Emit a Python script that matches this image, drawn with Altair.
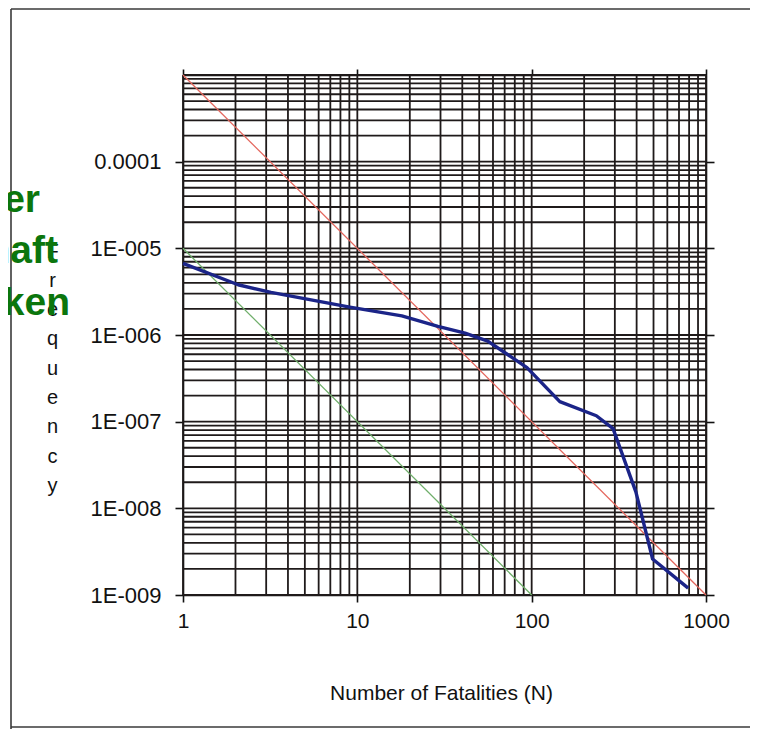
import altair as alt
import pandas as pd

# ---------------- data ----------------
# Blue F-N curve
curve_n = [1, 2.07, 3.2, 9.05, 18, 29, 41.5, 56, 94, 145, 235, 293, 396, 494, 790]
curve_f = [6.7e-6, 3.8e-6, 3.1e-6, 2.1e-6, 1.66e-6, 1.26e-6, 1.05e-6, 8.5e-7,
           4.2e-7, 1.7e-7, 1.17e-7, 8.3e-8, 1.55e-8, 2.6e-9, 1.2e-9]

# Upper criterion line (red) and lower criterion line (green)
red_n = [1, 1000]
red_f = [1e-3, 1e-9]
green_n = [1, 100]
green_f = [1e-5, 1e-9]

# Axis ticks and labels
x_ticks = [1, 10, 100, 1000]
x_tick_labels = ["1", "10", "100", "1000"]
y_ticks = [1e-4, 1e-5, 1e-6, 1e-7, 1e-8, 1e-9]
y_tick_labels = ["0.0001", "1E-005", "1E-006", "1E-007", "1E-008", "1E-009"]

# Log grid lines (1..9 per decade)
x_grid = [m * 10 ** e for e in range(0, 3) for m in range(1, 10)] + [1000]
y_grid = [m * 10.0 ** e for e in range(-9, -3) for m in range(1, 10)] + [1e-3]

# Slide text fragments cut off at the left edge
slide_words = ["er", "haft", "ken"]

# ---------------- chart ----------------
FONT = "Liberation Sans"
INK = "#111111"
GRID = "#1f1a1a"

xs = alt.Scale(type="log", domain=[1, 1000], nice=False)
ys = alt.Scale(type="log", domain=[1e-9, 1e-3], nice=False)

x_label_expr = "[" + ",".join(f"'{s}'" for s in x_tick_labels) + "][round(log(datum.value)/LN10)]"
y_label_expr = "[" + ",".join(f"'{s}'" for s in y_tick_labels) + "][round(-4 - log(datum.value)/LN10)]"

x_axis = alt.Axis(
    orient="bottom", values=x_ticks, labelExpr=x_label_expr, grid=False,
    tickSize=7, tickColor=INK, tickWidth=1.6, domainColor=INK, domainWidth=1.6,
    labelFont=FONT, labelFontSize=21, labelColor=INK, labelPadding=8,
    labelFlush=False,
    title="Number of Fatalities (N)", titleFont=FONT, titleFontSize=21,
    titleFontWeight="normal", titleColor=INK, titleX=258, titleY=98,
    titleBaseline="middle", titleAlign="center",
)
y_axis = alt.Axis(
    orient="left", values=y_ticks, labelExpr=y_label_expr, grid=False,
    tickSize=8, tickColor=INK, tickWidth=1.6, domainColor=INK, domainWidth=1.6,
    labelFont=FONT, labelFontSize=22, labelColor=INK, labelPadding=14,
    title=list("Frequency"), titleAngle=0, titleX=-131, titleY=166,
    titleAlign="center", titleBaseline="top", titleLineHeight=29.3,
    titleFont=FONT, titleFontSize=20, titleFontWeight="normal", titleColor=INK,
)
x_top = alt.Axis(orient="top", values=x_ticks, labels=False, grid=False, title=None,
                 tickSize=6, tickColor=INK, tickWidth=1.6, domainColor=INK, domainWidth=1.6)
y_right = alt.Axis(orient="right", values=y_ticks, labels=False, grid=False, title=None,
                   tickSize=8, tickColor=INK, tickWidth=1.6, domainColor=INK, domainWidth=1.6)

vgrid = alt.Chart(pd.DataFrame({"n": x_grid})).mark_rule(
    color=GRID, strokeWidth=1.8).encode(x=alt.X("n:Q", scale=xs, axis=None))
hgrid = alt.Chart(pd.DataFrame({"f": y_grid})).mark_rule(
    color=GRID, strokeWidth=1.8).encode(y=alt.Y("f:Q", scale=ys, axis=None))

red = alt.Chart(pd.DataFrame({"n": red_n, "f": red_f})).mark_line(
    color="#e4675e", strokeWidth=1.3).encode(
    x=alt.X("n:Q", scale=xs, axis=x_top),
    y=alt.Y("f:Q", scale=ys, axis=y_right))

green = alt.Chart(pd.DataFrame({"n": green_n, "f": green_f})).mark_line(
    color="#6fae6a", strokeWidth=1.3).encode(
    x=alt.X("n:Q", scale=xs, axis=None),
    y=alt.Y("f:Q", scale=ys, axis=None))

blue = alt.Chart(pd.DataFrame({"n": curve_n, "f": curve_f})).mark_line(
    color="#1b2488", strokeWidth=3.4, strokeJoin="round").encode(
    x=alt.X("n:Q", scale=xs, axis=x_axis),
    y=alt.Y("f:Q", scale=ys, axis=y_axis))

# paper edges (decoration)
edges = [
    alt.Chart(pd.DataFrame({"k": [0]})).mark_rule(color="#3a3a3a", strokeWidth=1.6).encode(
        x=alt.value(-172), y=alt.value(-66), y2=alt.value(660)),
    alt.Chart(pd.DataFrame({"k": [0]})).mark_rule(color="#3a3a3a", strokeWidth=1.6).encode(
        x=alt.value(-172), x2=alt.value(575), y=alt.value(-66)),
    alt.Chart(pd.DataFrame({"k": [0]})).mark_rule(color="#3a3a3a", strokeWidth=1.6).encode(
        x=alt.value(-172), x2=alt.value(575), y=alt.value(652)),
]

word_pos = [(-143, 137), (-125, 188), (-113, 240)]
words = [
    alt.Chart(pd.DataFrame({"t": [w]})).mark_text(
        font=FONT, fontSize=39, fontWeight="bold", color="#0b760d",
        align="right", baseline="alphabetic").encode(
        text="t:N", x=alt.value(px), y=alt.value(py))
    for w, (px, py) in zip(slide_words, word_pos)
]

chart = alt.layer(
    vgrid, hgrid, *edges, green, red, blue, *words
).resolve_axis(
    x="independent", y="independent"
).properties(
    width=523, height=520,
    autosize=alt.AutoSizeParams(type="none"),
    padding={"left": 175, "top": 67, "right": 44, "bottom": 134},
    background="white",
).configure_view(stroke=None)

chart.save("out.html", embed_options={"renderer": "svg", "actions": False})
